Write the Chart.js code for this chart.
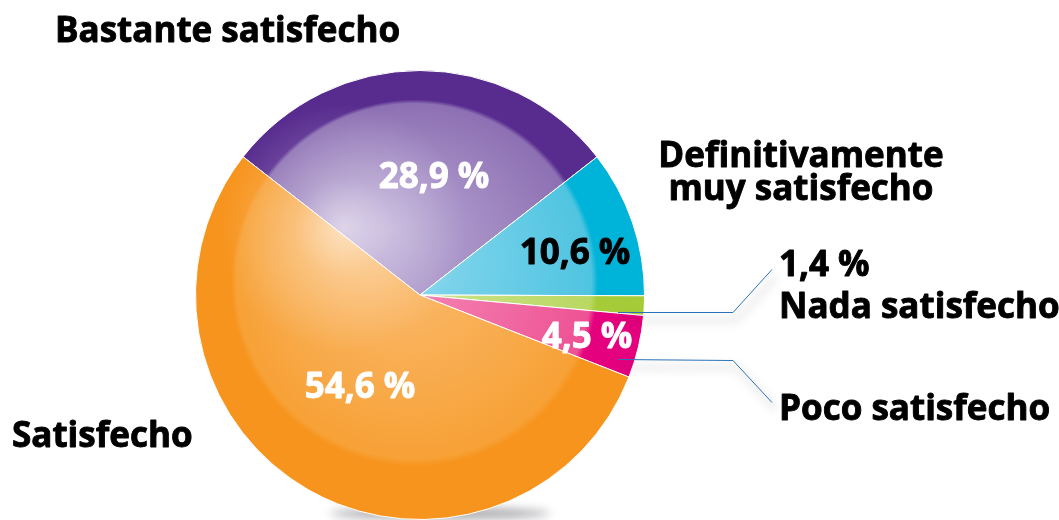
<!DOCTYPE html>
<html>
<head>
<meta charset="utf-8">
<script src="https://cdn.jsdelivr.net/npm/chart.js@4.4.1/dist/chart.umd.min.js"></script>
<style>
  html, body { margin: 0; padding: 0; background: #fff; }
  #wrap { width: 1059px; height: 520px; position: relative; }
</style>
</head>
<body>
<div id="wrap"><canvas id="pieCanvas" width="1059" height="520"></canvas></div>
<script>
// data
const categories = ['Bastante satisfecho', 'Definitivamente muy satisfecho', 'Nada satisfecho', 'Poco satisfecho', 'Satisfecho'];
const shares = [28.9, 10.6, 1.4, 4.5, 54.6];
const valueLabels = ['28,9 %', '10,6 %', '1,4 %', '4,5 %', '54,6 %'];

// colours: [light centre, inner, outer ring]
const sliceColors = [
    ['#b9a8d4', '#8d70b3', '#582c8f'],
    ['#8fd9ee', '#4fc4e1', '#00b3d8'],
    ['#d3e597', '#b9d862', '#a6cb38'],
    ['#f592bb', '#ee5294', '#e5007e'],
    ['#fbbf78', '#f7a136', '#f7941d']
];

const FONT = 'bold 35px "Open Sans", "DejaVu Sans", sans-serif';

// where the texts go (layout only)
const percentPos = [
    { x: 434, y: 188, color: '#fff' },
    { x: 575, y: 264, color: '#000' },
    null,
    { x: 587, y: 348, color: '#fff' },
    { x: 360, y: 398, color: '#fff' }
];
const outerTexts = [
    { lines: ['Bastante satisfecho'], x: 55, y: 42, align: 'left' },
    { lines: ['Definitivamente', 'muy satisfecho'], x: 801, y: 167, align: 'center', gap: 33 },
    { lines: ['1,4 %', 'Nada satisfecho'], x: 779, y: 276, align: 'left', gap: 42 },
    { lines: ['Poco satisfecho'], x: 779, y: 420, align: 'left' },
    { lines: ['Satisfecho'], x: 12, y: 447, align: 'left' }
];
const leaders = [
    [[618, 312], [733, 312], [772, 269]],
    [[618, 359], [733, 360], [772, 402]]
];

function sliceFill(context) {
    const c = sliceColors[context.dataIndex];
    const chart = context.chart;
    const area = chart.chartArea;
    if (!area) return c[2];
    const cx = (area.left + area.right) / 2;
    const cy = (area.top + area.bottom) / 2;
    const r = Math.min(area.right - area.left, area.bottom - area.top) / 2;
    const g = chart.ctx.createRadialGradient(cx - 0.133 * r, cy - 0.29 * r, 0, cx, cy, r);
    g.addColorStop(0, c[0]);
    g.addColorStop(0.79, c[1]);
    g.addColorStop(0.815, c[2]);
    g.addColorStop(1, c[2]);
    return g;
}

function boldText(ctx, txt, x, y) {
    ctx.fillText(txt, x, y);
    ctx.strokeText(txt, x, y);
}

const decorPlugin = {
    id: 'decor',
    beforeDatasetsDraw(chart) {
        const ctx = chart.ctx;
        const arc = chart.getDatasetMeta(0).data[0];
        ctx.save();
        // soft shadow under the pie
        ctx.filter = 'blur(5px)';
        ctx.fillStyle = 'rgba(70,70,80,0.45)';
        ctx.beginPath();
        ctx.ellipse(arc.x + 20, arc.y + arc.outerRadius - 6, 110, 6, 0, 0, Math.PI * 2);
        ctx.fill();
        ctx.restore();
    },
    afterDatasetsDraw(chart) {
        const ctx = chart.ctx;
        const arc = chart.getDatasetMeta(0).data[0];
        // glossy highlight
        ctx.save();
        ctx.beginPath();
        ctx.arc(arc.x, arc.y, arc.outerRadius, 0, Math.PI * 2);
        ctx.clip();
        const hx = arc.x - 0.34 * arc.outerRadius, hy = arc.y - 0.3 * arc.outerRadius;
        const g = ctx.createRadialGradient(hx, hy, 0, hx, hy, 0.55 * arc.outerRadius);
        g.addColorStop(0, 'rgba(255,255,255,0.6)');
        g.addColorStop(0.4, 'rgba(255,255,255,0.25)');
        g.addColorStop(1, 'rgba(255,255,255,0)');
        ctx.fillStyle = g;
        ctx.fillRect(hx - arc.outerRadius, hy - arc.outerRadius, arc.outerRadius * 2, arc.outerRadius * 2);
        ctx.restore();

        // leader lines with faint shadow
        ctx.save();
        leaders.forEach(pts => {
            ctx.save();
            ctx.strokeStyle = 'rgba(0,0,0,0.06)';
            ctx.lineWidth = 8;
            ctx.filter = 'blur(4px)';
            ctx.beginPath();
            pts.forEach((p, i) => i ? ctx.lineTo(p[0] + 4, p[1] + 8) : ctx.moveTo(p[0] + 4, p[1] + 8));
            ctx.stroke();
            ctx.restore();
            ctx.strokeStyle = '#2a72b8';
            ctx.lineWidth = 1;
            ctx.beginPath();
            pts.forEach((p, i) => i ? ctx.lineTo(p[0], p[1] + 0.5) : ctx.moveTo(p[0], p[1] + 0.5));
            ctx.stroke();
        });
        ctx.restore();

        // texts
        ctx.save();
        ctx.font = FONT;
        ctx.textBaseline = 'alphabetic';
        ctx.textAlign = 'center';
        ctx.lineWidth = 0.9;
        ctx.lineJoin = 'round';
        percentPos.forEach((p, i) => {
            if (!p) return;
            ctx.fillStyle = p.color;
            ctx.strokeStyle = p.color;
            boldText(ctx, valueLabels[i], p.x, p.y);
        });
        ctx.fillStyle = '#000';
        ctx.strokeStyle = '#000';
        outerTexts.forEach(t => {
            ctx.textAlign = t.align;
            t.lines.forEach((line, k) => boldText(ctx, line, t.x, t.y + k * (t.gap || 0)));
        });
        ctx.restore();
    }
};

// keep label text in step with the data arrays
outerTexts[2].lines[0] = valueLabels[2];

new Chart(document.getElementById('pieCanvas'), {
    type: 'pie',
    data: {
        labels: categories,
        datasets: [{
            data: shares,
            backgroundColor: sliceFill,
            borderColor: '#ffffff',
            borderWidth: 1
        }]
    },
    options: {
        responsive: false,
        animation: false,
        rotation: -52,
        layout: { padding: { left: 195, right: 414, top: 70, bottom: 0 } },
        plugins: {
            legend: { display: false },
            tooltip: { enabled: false }
        }
    },
    plugins: [decorPlugin]
});
</script>
</body>
</html>
